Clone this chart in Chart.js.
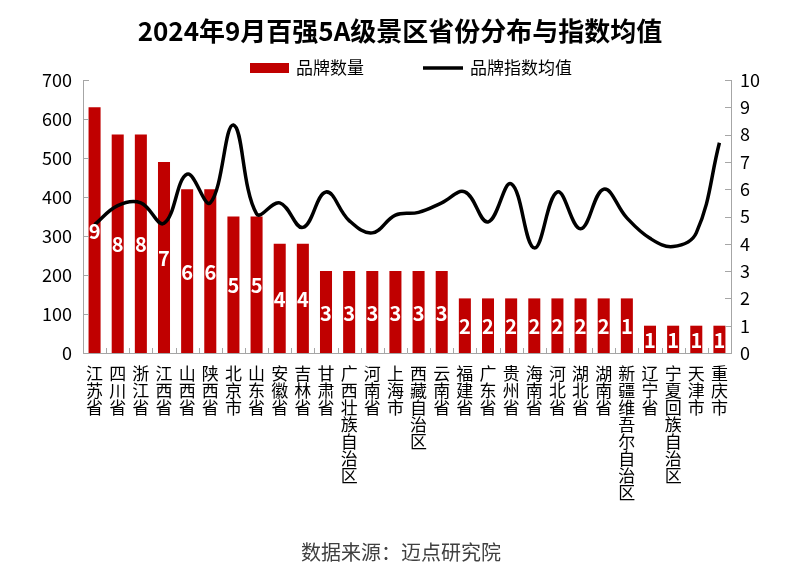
<!DOCTYPE html>
<html><head><meta charset="utf-8">
<script src="https://cdn.jsdelivr.net/npm/chart.js@4/dist/chart.umd.min.js"></script>
<style>html,body{margin:0;padding:0;background:#fff}#wrap{width:800px;height:576px}</style>
</head><body><div id="wrap"><canvas id="c" width="800" height="576"></canvas></div>
<script>
const categories = ['江苏省','四川省','浙江省','江西省','山西省','陕西省','北京市','山东省','安徽省','吉林省','甘肃省','广西壮族自治区','河南省','上海市','西藏自治区','云南省','福建省','广东省','贵州省','海南省','河北省','湖北省','湖南省','新疆维吾尔自治区','辽宁省','宁夏回族自治区','天津市','重庆市'];
const barValues = [630,560,560,490,420,420,350,350,280,280,210,210,210,210,210,210,140,140,140,140,140,140,140,140,70,70,70,70];
const barLabels = [9,8,8,7,6,6,5,5,4,4,3,3,3,3,3,3,2,2,2,2,2,2,2,1,1,1,1,1];
const lineValues = [4.7,5.4,5.5,4.75,6.55,5.5,8.35,5.1,5.5,4.6,5.9,4.85,4.4,5.05,5.15,5.5,5.9,4.8,6.2,3.85,5.9,4.55,6.0,4.95,4.2,3.9,4.4,7.7];
const leftTicks = [0,100,200,300,400,500,600,700];
const rightTicks = [0,1,2,3,4,5,6,7,8,9,10];
const titleText = '2024年9月百强5A级景区省份分布与指数均值';
const legendBar = '品牌数量';
const legendLine = '品牌指数均值';
const sourceText = '数据来源：迈点研究院';

const FONT = '"Noto Sans CJK SC", "Noto Sans", sans-serif';
const AXIS = '#a6a6a6';

const deco = {
  id: 'deco',
  afterDatasetsDraw(chart) {
    const ctx = chart.ctx;
    const meta = chart.getDatasetMeta(1);
    ctx.save();
    ctx.fillStyle = '#fff';
    ctx.font = 'bold 20px ' + FONT;
    ctx.textAlign = 'center';
    ctx.textBaseline = 'middle';
    meta.data.forEach((el, i) => {
      ctx.fillText(String(barLabels[i]), el.x, (el.y + el.base) / 2 + 1);
    });
    ctx.restore();
  },
  afterDraw(chart) {
    const ctx = chart.ctx;
    const ca = chart.chartArea;
    const sx = chart.scales.x, sy = chart.scales.y, sy1 = chart.scales.y1;
    ctx.save();
    ctx.strokeStyle = AXIS;
    ctx.lineWidth = 1;
    ctx.beginPath();
    leftTicks.forEach(v => {
      const y = Math.round(sy.getPixelForValue(v)) + 0.5;
      ctx.moveTo(ca.left, y); ctx.lineTo(ca.left + 6, y);
    });
    rightTicks.forEach(v => {
      const y = Math.round(sy1.getPixelForValue(v)) + 0.5;
      ctx.moveTo(ca.right, y); ctx.lineTo(ca.right - 6, y);
    });
    for (let i = 1; i < categories.length; i++) {
      const x = Math.round((sx.getPixelForValue(i - 1) + sx.getPixelForValue(i)) / 2) + 0.5;
      ctx.moveTo(x, ca.bottom); ctx.lineTo(x, ca.bottom - 5);
    }
    ctx.stroke();

    // title
    ctx.fillStyle = '#000';
    ctx.textAlign = 'center';
    ctx.textBaseline = 'middle';
    ctx.font = 'bold 26px ' + FONT;
    ctx.fillText(titleText, 400, 31);

    // legend
    ctx.textAlign = 'left';
    ctx.font = '17px ' + FONT;
    ctx.fillStyle = '#C00000';
    ctx.fillRect(250, 63, 39, 10);
    ctx.fillStyle = '#000';
    ctx.fillText(legendBar, 296, 68);
    ctx.strokeStyle = '#000';
    ctx.lineWidth = 3.5;
    ctx.beginPath(); ctx.moveTo(423, 68); ctx.lineTo(463, 68); ctx.stroke();
    ctx.fillText(legendLine, 470, 68);

    // source
    ctx.textAlign = 'center';
    ctx.fillStyle = '#404040';
    ctx.font = '20px ' + FONT;
    ctx.fillText(sourceText, 401, 552);
    ctx.restore();
  }
};

new Chart(document.getElementById('c'), {
  data: {
    labels: categories.map(s => s.split('')),
    datasets: [
      { type: 'line', label: legendLine, data: lineValues, yAxisID: 'y1', borderColor: '#000', borderWidth: 3.5, pointRadius: 0, tension: 0.4, order: 0, fill: false },
      { type: 'bar', label: legendBar, data: barValues, yAxisID: 'y', backgroundColor: '#C00000', barPercentage: 0.52, categoryPercentage: 1, order: 1 }
    ]
  },
  options: {
    responsive: false,
    animation: false,
    devicePixelRatio: 1,
    layout: { padding: { top: 80, left: 0, right: 0, bottom: 0 } },
    plugins: { legend: { display: false }, title: { display: false }, tooltip: { enabled: false } },
    scales: {
      x: {
        grid: { display: false, drawTicks: false },
        border: { color: AXIS, width: 1 },
        ticks: { autoSkip: false, maxRotation: 0, minRotation: 0, padding: 12, color: '#000', font: { size: 17, family: FONT, lineHeight: 1.0 } },
        afterFit(s) { s.height = 223; }
      },
      y: {
        position: 'left', min: 0, max: 700,
        afterBuildTicks(s) { s.ticks = leftTicks.map(v => ({ value: v })); },
        grid: { display: false, drawTicks: false },
        border: { color: AXIS, width: 1 },
        ticks: { padding: 11, color: '#000', font: { size: 18, family: FONT } },
        afterFit(s) { s.width = 83; }
      },
      y1: {
        position: 'right', min: 0, max: 10,
        afterBuildTicks(s) { s.ticks = rightTicks.map(v => ({ value: v })); },
        grid: { display: false, drawTicks: false },
        border: { color: AXIS, width: 1 },
        ticks: { padding: 9, color: '#000', font: { size: 18, family: FONT } },
        afterFit(s) { s.width = 69; }
      }
    }
  },
  plugins: [deco]
});
</script>
</body></html>
